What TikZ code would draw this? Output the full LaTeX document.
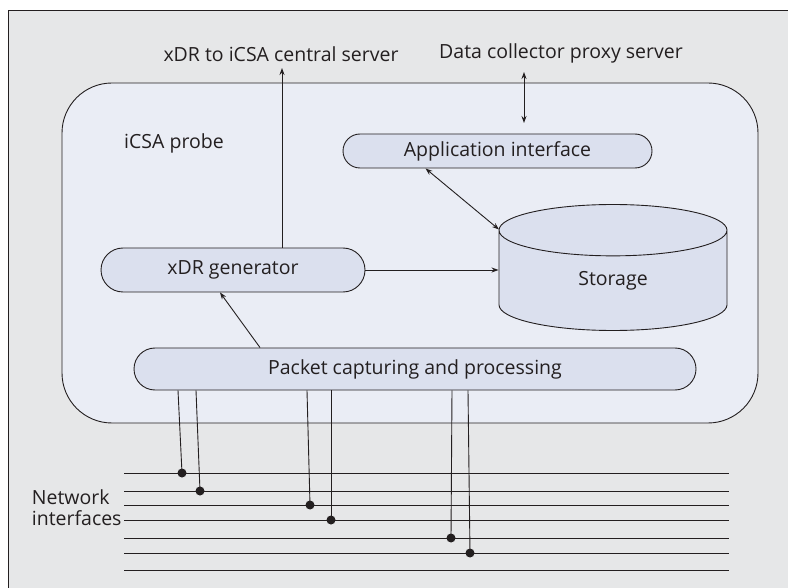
\documentclass[tikz,border=0pt]{standalone}
\usepackage{fontspec}
\setmainfont{Open Sans}
\usepackage{tikz}
\usepackage{xcolor}
\usetikzlibrary{arrows.meta,shapes.misc,shapes.geometric}

\definecolor{framegray}{HTML}{E6E7E8}
\definecolor{probefill}{HTML}{EAEDF5}
\definecolor{boxfill}{HTML}{DBE0EE}
\definecolor{inkline}{HTML}{231F20}

\tikzset{
  lbl/.style={font=\fontsize{19.5}{21}\selectfont, text=inkline, inner sep=0pt},
  pill/.style={rounded rectangle, draw=inkline, fill=boxfill, line width=0.9pt, lbl},
  tap/.style={circle, fill=inkline, inner sep=0pt, minimum size=9pt},
}

\begin{document}
\begin{tikzpicture}[x=1pt,y=-1pt,>={Stealth[length=7pt,width=5pt]},line width=0.9pt,draw=inkline]
\useasboundingbox (0,0) rectangle (788,588);
% grey frame, ruled on top and left only
\fill[framegray] (8,10) rectangle (788,588);
\draw (8,588)--(8,10)--(788,10);

% the probe
\node[draw=inkline,fill=probefill,rounded corners=50pt,minimum width=696pt,minimum height=340pt] (probe) at (410,253) {};
\node[lbl] (probename) at (174,143) {iCSA probe};

\node[pill,minimum width=309pt,minimum height=34pt] (app) at (497.5,151) {Application interface};
\node[pill,minimum width=264pt,minimum height=44pt] (xdr) at (233,270) {xDR generator};
\node[pill,minimum width=562pt,minimum height=42pt] (pkt) at (415,369) {Packet capturing and processing};
\node[cylinder,shape border rotate=90,aspect=0.74,draw=inkline,fill=boxfill,lbl,
  minimum width=228pt,minimum height=126pt,anchor=shape center] (store) at (613,267.5) {Storage};

% outside ends
\node[lbl] (central) at (281,54) {xDR to iCSA central server};
\node[lbl] (proxy) at (561,53) {Data collector proxy server};
\coordinate (xout) at (282,68);
\coordinate (dctop) at (524,72);
\coordinate (dcbot) at (524,123);

\draw[->](xdr.north -| xout)--(xout);
\draw[<->](dctop)--(dcbot);
\draw[<->]([xshift=-72pt]app.south)--([xshift=-114pt,yshift=38pt]store.shape center);
\draw[->](xdr.east)--(xdr.east -| store.west);
\draw[->]([xshift=-155pt]pkt.north)--([xshift=-13pt]xdr.south);

% network interfaces
\node[lbl,align=left,anchor=east] (net) at (122,508) {Network\\interfaces};
\foreach \y [count=\k] in {473,491,505,520,538,553,570}
  \draw (124,\y) coordinate (w\k)--(729,\y) coordinate (e\k);
\foreach \dx/\tx/\ty/\k in {-237/182/473/1,-219/200/491/2,-108/310/505/3,-84/331/520/4,37/451/538/5,53/470/553/6}{
  \node[tap] (t\k) at (\tx,\ty) {};
  \draw ([xshift=\dx pt]pkt.south)--(t\k.center);
}
\end{tikzpicture}
\end{document}
